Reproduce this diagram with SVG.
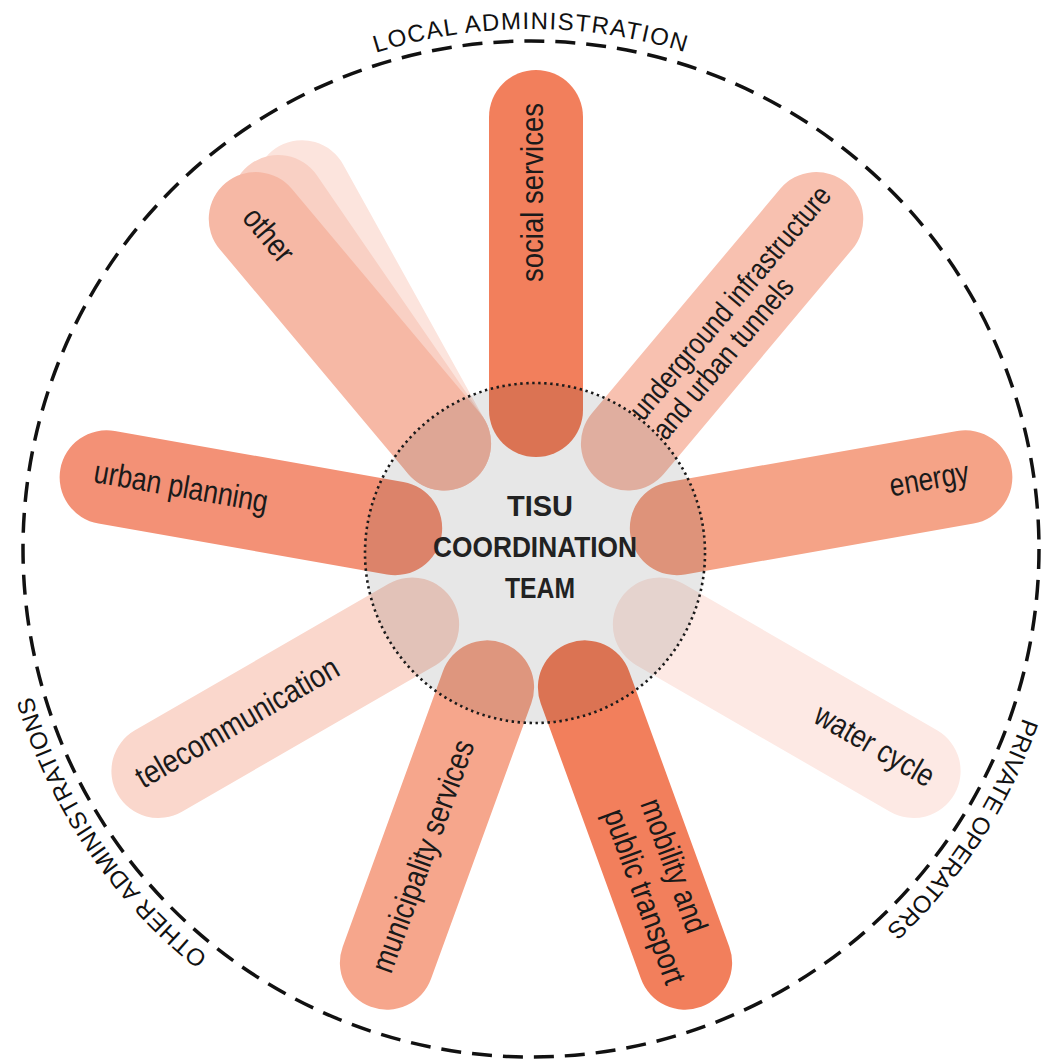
<svg xmlns="http://www.w3.org/2000/svg" width="1050" height="1062" viewBox="0 0 1050 1062">
<style>
.bar{fill:none;stroke-width:94;stroke-linecap:round}
.lbl{font-family:"Liberation Sans",Arial,sans-serif;font-size:32px;fill:#1a1a1a}
.ring{font-family:"Liberation Sans",Arial,sans-serif;font-size:24px;fill:#111}
.ctr{font-family:"Liberation Sans",Arial,sans-serif;font-size:30px;font-weight:bold;fill:#222}
</style>
<defs>
<path id="ringPath" d="M1051,549 A520,520 0 1 1 11,549 A520,520 0 1 1 1051,549"/>
</defs>
<rect width="1050" height="1062" fill="#fff"/>

<g id="outer-ring">
<circle cx="531" cy="549" r="508" fill="none" stroke="#111" stroke-width="3.5" stroke-dasharray="20 11"/>
<text class="ring" letter-spacing="1.4"><textPath href="#ringPath" startOffset="2450" text-anchor="middle">LOCAL ADMINISTRATION</textPath></text>
<text class="ring"><textPath href="#ringPath" startOffset="299" text-anchor="middle">PRIVATE OPERATORS</textPath></text>
<text class="ring" letter-spacing="0.5"><textPath href="#ringPath" startOffset="1325" text-anchor="middle">OTHER ADMINISTRATIONS</textPath></text>
</g>

<g id="other" transform="translate(536,553) rotate(50)">
<line class="bar" x1="-143" y1="0" x2="-436" y2="0" stroke="#fce4dd" transform="rotate(11 -143 0)"/>
<line class="bar" x1="-143" y1="0" x2="-436" y2="0" stroke="#f9d0c4" transform="rotate(5.5 -143 0)"/>
<line class="bar" x1="-143" y1="0" x2="-436" y2="0" stroke="#f6b8a5"/>
<text class="lbl" x="-446" y="11" textLength="61" lengthAdjust="spacingAndGlyphs">other</text>
</g>

<g id="social-services" transform="translate(536,553) rotate(-90)">
<line class="bar" x1="143" y1="0" x2="436" y2="0" stroke="#f27f5c"/>
<text class="lbl" x="271" y="7" textLength="179" lengthAdjust="spacingAndGlyphs">social services</text>
</g>

<g id="underground" transform="translate(536,553) rotate(-50)">
<line class="bar" x1="143" y1="0" x2="436" y2="0" stroke="#f8c1b0"/>
<text class="lbl" style="font-size:30px" x="169" y="-2" textLength="295" lengthAdjust="spacingAndGlyphs">underground infrastructure</text>
<text class="lbl" style="font-size:30px" x="169" y="28" textLength="201" lengthAdjust="spacingAndGlyphs">and urban tunnels</text>
</g>

<g id="energy" transform="translate(536,553) rotate(-10)">
<line class="bar" x1="143" y1="0" x2="436" y2="0" stroke="#f5a387"/>
<text class="lbl" x="360" y="6" textLength="80" lengthAdjust="spacingAndGlyphs">energy</text>
</g>

<g id="water-cycle" transform="translate(536,553) rotate(30)">
<line class="bar" x1="143" y1="0" x2="436" y2="0" stroke="#fde9e4"/>
<text class="lbl" x="323" y="8" textLength="133" lengthAdjust="spacingAndGlyphs">water cycle</text>
</g>

<g id="mobility" transform="translate(536,553) rotate(70)">
<line class="bar" x1="143" y1="0" x2="436" y2="0" stroke="#f27f5c"/>
<text class="lbl" x="271" y="-12" textLength="140" lengthAdjust="spacingAndGlyphs">mobility and</text>
<text class="lbl" x="268" y="26" textLength="184" lengthAdjust="spacingAndGlyphs">public transport</text>
</g>

<g id="municipality" transform="translate(536,553) rotate(-70)">
<line class="bar" x1="-143" y1="0" x2="-436" y2="0" stroke="#f6a68c"/>
<text class="lbl" x="-446" y="8" textLength="245" lengthAdjust="spacingAndGlyphs">municipality services</text>
</g>

<g id="telecommunication" transform="translate(536,553) rotate(-30)">
<line class="bar" x1="-143" y1="0" x2="-436" y2="0" stroke="#fad7cc"/>
<text class="lbl" x="-458" y="8" textLength="229" lengthAdjust="spacingAndGlyphs">telecommunication</text>
</g>

<g id="urban-planning" transform="translate(536,553) rotate(10)">
<line class="bar" x1="-143" y1="0" x2="-436" y2="0" stroke="#f39176"/>
<text class="lbl" x="-449" y="7" textLength="176" lengthAdjust="spacingAndGlyphs">urban planning</text>
</g>

<g id="tisu-coordination-team">
<circle cx="535" cy="553" r="170" fill="#000" fill-opacity="0.095"/>
<circle cx="535" cy="553" r="170" fill="none" stroke="#1a1a1a" stroke-width="2.6" stroke-dasharray="2.4 3.6"/>
<text class="ctr" x="507" y="516" textLength="66" lengthAdjust="spacingAndGlyphs">TISU</text>
<text class="ctr" x="433" y="557" textLength="204" lengthAdjust="spacingAndGlyphs">COORDINATION</text>
<text class="ctr" x="505" y="598" textLength="70" lengthAdjust="spacingAndGlyphs">TEAM</text>
</g>
</svg>
